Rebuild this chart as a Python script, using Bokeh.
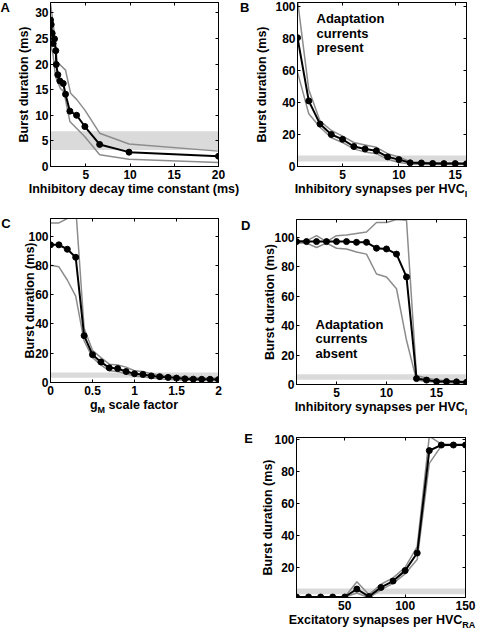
from bokeh.plotting import figure
from bokeh.models import Label, LinearAxis, FixedTicker, BoxAnnotation, Range1d, Spacer, Div
from bokeh.layouts import row, column
from bokeh.embed import file_html
from bokeh.resources import INLINE

# ---------------- data ----------------
BAND_LOW, BAND_HIGH = 3.2, 6.9

# Panel A: inhibitory decay time constant (ms)
A_X = [1.0, 1.08, 1.19, 1.3, 1.45, 1.6, 1.65, 1.83, 2.06, 2.44, 2.7, 3.19, 3.95, 4.89, 6.56, 9.88, 20.0]
A_Y = [28.6, 27.7, 26.0, 24.0, 24.9, 22.6, 19.9, 17.9, 16.7, 16.2, 14.1, 10.8, 10.0, 7.8, 4.3, 2.8, 2.0]
A_UP_X = [1.0, 1.3, 1.76, 2.7, 3.27, 3.95, 4.89, 6.56, 9.88, 20.0]
A_UP_Y = [31.8, 27.9, 20.4, 18.8, 14.3, 13.1, 11.0, 6.5, 4.4, 3.0]
A_LO_X = [1.0, 1.3, 1.57, 2.13, 2.51, 3.19, 4.89, 6.56, 9.88, 20.0]
A_LO_Y = [24.0, 21.7, 17.5, 15.2, 14.6, 8.8, 5.8, 2.3, 1.4, 0.8]
A_XTICKS = [5, 10, 15, 20]
A_YTICKS = [0, 5, 10, 15, 20, 25, 30]

# Panel B: inhibitory synapses per HVC_I (adaptation present)
B_X = list(range(1, 17))
B_Y = [80.5, 41, 26.5, 20, 17, 12.5, 11, 9.8, 6, 4.3, 2.3, 2.2, 1.9, 1.8, 1.8, 1.7]
B_UP = [104, 48, 28.5, 22.5, 19, 15, 13.5, 12, 8, 6, 3, 2.7, 2.5, 2.3, 2.2, 2.2]
B_LO = [59, 33, 24.5, 18, 15, 11, 9, 8, 4.5, 2.5, 1.5, 1.3, 1.2, 1.2, 1.2, 1.2]
B_XTICKS = [5, 10, 15]
Y100_TICKS = [0, 20, 40, 60, 80, 100]

# Panel C: g_M scale factor
C_X = [0.0, 0.1, 0.2, 0.3, 0.4, 0.5, 0.6, 0.7, 0.8, 0.9, 1.0,
       1.1, 1.2, 1.3, 1.4, 1.5, 1.6, 1.7, 1.8, 1.9, 2.0]
C_Y = [94, 94, 91, 85.5, 32, 19, 14, 10, 9.5, 7.5, 6, 5.5, 4.5, 4, 3.5, 3, 2.5, 2.3, 2.2, 2.2, 2.0]
C_UP = [109, 109, 112, 120, 37, 22, 17, 12.5, 12, 10.5, 8, 7.5, 6, 5, 4.5, 4, 3.5, 3.5, 3, 3, 3]
C_LO = [80, 79, 70, 59, 28.5, 17, 12, 8, 7.5, 6, 4.5, 4, 3, 2.5, 2, 1.8, 1.5, 1.5, 1.3, 1.3, 1.2]
C_XTICKS = [0, 0.5, 1, 1.5, 2]
C_XLABELS = ["0", "0.5", "1", "1.5", "2"]

# Panel D: inhibitory synapses per HVC_I (adaptation absent)
D_X = list(range(1, 19))
D_Y = [97, 97, 97, 97, 97, 97, 96.5, 96.5, 92.5, 92, 88.5, 73, 4, 3, 2, 2, 1.8, 1.5]
D_UP = [97.5, 97.5, 101, 97, 101, 101.5, 102.5, 103.5, 110, 110, 112, 111.5, 6, 4.5, 3, 2.5, 2.5, 2]
D_LO = [96, 96, 93, 96, 92.5, 92, 90, 88.5, 75, 73, 65, 30, 3, 2, 1.5, 1.2, 1, 1]
D_XTICKS = [5, 10, 15]

# Panel E: excitatory synapses per HVC_RA
E_X = [10, 20, 30, 40, 50, 60, 70, 80, 90, 100, 110, 120, 130, 140, 150]
E_Y = [1.5, 1.5, 1.5, 1.5, 1.5, 6.5, 1.8, 7.5, 11.5, 18, 29, 93, 96.5, 96.5, 96.5]
E_UP = [1.5, 1.5, 1.5, 1.5, 1.5, 11, 3, 9.5, 13.5, 20, 33, 102, 97, 97, 97]
E_LO = [1.5, 1.5, 1.5, 1.5, 1.5, 4, 1, 6, 10, 16, 25, 85, 96, 96.5, 96.5]
E_XTICKS = [50, 100, 150]
E_YTICKS = [20, 40, 60, 80, 100]

YLABEL = "Burst duration (ms)"

# ---------------- style ----------------
FONT = "Liberation Sans"
TICK_FS = "12px"
LAB_FS = "12.5px"
GREY = "#8c8c8c"
BAND = "#dadada"
SUB = '<sub style="font-size:9px;vertical-align:-4px;line-height:0">{}</sub>'


def panel(w, h, bl, br, bt, bb, xr, yr, xticks, yticks, ylab_standoff, xlabels=None):
    p = figure(width=w, height=h, min_border_left=bl, min_border_right=br,
               min_border_top=bt, min_border_bottom=bb,
               x_range=Range1d(*xr), y_range=Range1d(*yr),
               output_backend="svg", toolbar_location=None, tools="", margin=0)
    p.xgrid.visible = False
    p.ygrid.visible = False
    p.outline_line_color = "black"
    p.outline_line_width = 1
    p.background_fill_color = "white"
    p.border_fill_color = "white"
    for ax, ticks, sd in ((p.xaxis[0], xticks, 3), (p.yaxis[0], yticks, 2)):
        ax.ticker = FixedTicker(ticks=ticks)
        ax.major_label_text_font = FONT
        ax.major_label_text_font_style = "bold"
        ax.major_label_text_font_size = TICK_FS
        ax.major_label_text_color = "black"
        ax.major_label_standoff = sd
        ax.major_tick_in = 3
        ax.major_tick_out = 0
        ax.minor_tick_line_color = None
        ax.axis_line_color = "black"
        ax.major_tick_line_color = "black"
    if xlabels is not None:
        p.xaxis[0].major_label_overrides = {t: l for t, l in zip(xticks, xlabels)}
    ya = p.yaxis[0]
    ya.axis_label = YLABEL
    ya.axis_label_text_font = FONT
    ya.axis_label_text_font_style = "bold"
    ya.axis_label_text_font_size = LAB_FS
    ya.axis_label_text_color = "black"
    ya.axis_label_standoff = ylab_standoff
    for loc, ticks in (("above", xticks), ("right", yticks)):
        ax = LinearAxis(ticker=FixedTicker(ticks=ticks), major_label_text_font_size="0px",
                        major_label_text_color=None,
                        major_label_standoff=0, major_tick_in=3, major_tick_out=0,
                        minor_tick_line_color=None, axis_line_color="black",
                        major_tick_line_color="black")
        p.add_layout(ax, loc)
    p.add_layout(BoxAnnotation(bottom=BAND_LOW, top=BAND_HIGH, fill_color=BAND,
                               fill_alpha=1, line_color=None, level="underlay"))
    return p


def draw(p, x, y, upx, up, lox, lo):
    p.line(upx, up, line_color=GREY, line_width=1.5)
    p.line(lox, lo, line_color=GREY, line_width=1.5)
    p.line(x, y, line_color="black", line_width=2)
    p.scatter(x, y, size=6, fill_color="black", line_color="black")


def inner_text(p, lines, x, y0, dy):
    for i, t in enumerate(lines):
        p.add_layout(Label(x=x, y=y0 - dy * i, x_units="screen", y_units="screen", text=t,
                           text_font=FONT, text_font_style="bold", text_font_size="13px",
                           text_color="black"))


def letter_div(letter, w, h, pt, pl):
    html = (f'<div style="font-family:\'{FONT}\';font-weight:bold;font-size:13px;'
            f'line-height:11px;padding-top:{pt}px;padding-left:{pl}px;color:black">'
            f'{letter}</div>')
    return Div(text=html, width=w, height=h, margin=0)


def xlabel_div(html, w, h, pad):
    s = (f'<div style="box-sizing:border-box;width:{w}px;padding-left:{pad}px;'
         f'text-align:center;font-family:\'{FONT}\';font-weight:bold;font-size:{LAB_FS};'
         f'line-height:9px;white-space:nowrap;color:black">{html}</div>')
    return Div(text=s, width=w, height=h, margin=0)


GW = 240          # width of each panel group
LDW = 12          # width of the panel-letter strip
FW = GW - LDW     # figure width

# ---- row 1 ----
pA = panel(FW, 181, 38, 22, 2, 14, (1.0, 20.0), (0, 32), A_XTICKS, A_YTICKS, 1)
draw(pA, A_X, A_Y, A_UP_X, A_UP_Y, A_LO_X, A_LO_Y)
gA = column(row(letter_div("A", LDW, 181, 0, 0.5), pA),
            xlabel_div("Inhibitory decay time constant (ms)", GW, 26, 28), spacing=0)

pB = panel(FW, 181, 44, 14, 2, 14, (1, 16), (0, 102.5), B_XTICKS, Y100_TICKS, 3)
draw(pB, B_X, B_Y, B_X, B_UP, B_X, B_LO)
inner_text(pB, ["Adaptation", "currents", "present"], 19, 140.5, 14.7)
gB = column(row(letter_div("B", LDW, 181, 0, 0), pB),
            xlabel_div("Inhibitory synapses per HVC" + SUB.format("I"), GW, 26, 42), spacing=0)

# ---- row 2 ----
pC = panel(FW, 190, 38, 22, 11, 14, (0, 2), (0, 112), C_XTICKS, Y100_TICKS, -12, C_XLABELS)
draw(pC, C_X, C_Y, C_X, C_UP, C_X, C_LO)
gC = column(row(letter_div("C", LDW, 190, 11.3, 1.2), pC),
            xlabel_div("g" + SUB.format("M") + " scale factor", GW, 33, 28), spacing=0)

pD = panel(FW, 192, 44, 14, 12, 14, (1, 18), (0, 112), D_XTICKS, Y100_TICKS, -6)
draw(pD, D_X, D_Y, D_X, D_UP, D_X, D_LO)
inner_text(pD, ["Adaptation", "currents", "absent"], 19, 53, 14.7)
gD = column(row(letter_div("D", LDW, 192, 13, 1), pD),
            xlabel_div("Inhibitory synapses per HVC" + SUB.format("I"), GW, 31, 42), spacing=0)

# ---- row 3 ----
pE = panel(FW, 182, 44, 15, 7, 14, (10, 150), (1.2, 101.2), E_XTICKS, E_YTICKS, -4)
draw(pE, E_X, E_Y, E_X, E_UP, E_X, E_LO)
gE = column(row(letter_div("E", LDW, 182, 3.3, 4.2), pE),
            xlabel_div("Excitatory synapses per HVC" + SUB.format("RA"), GW, 21, 44), spacing=0)

layout = column(row(gA, gB, spacing=0), row(gC, gD, spacing=0),
                row(Spacer(width=GW, height=203, margin=0), gE, spacing=0), spacing=0)

open("out.html", "w").write(file_html(layout, INLINE))
